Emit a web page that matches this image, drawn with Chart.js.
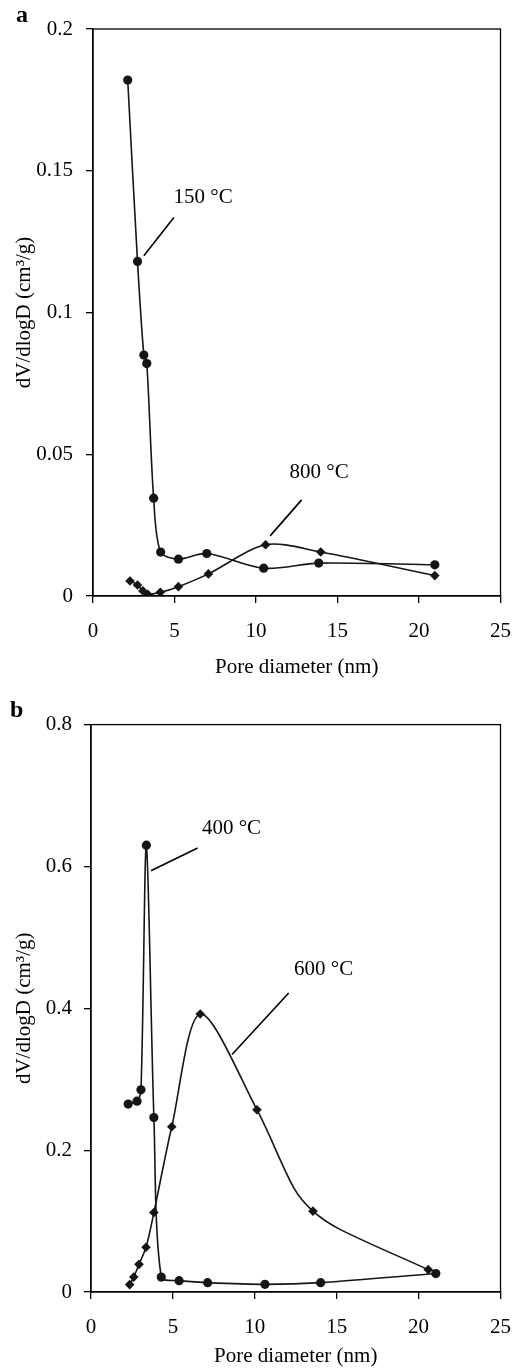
<!DOCTYPE html>
<html>
<head>
<meta charset="utf-8">
<script src="https://cdn.jsdelivr.net/npm/chart.js@4/dist/chart.umd.min.js"></script>
<style>
    html, body { margin: 0; padding: 0; background: #fff; }
    body { width: 527px; height: 1371px; position: relative; overflow: hidden; }
    canvas { position: absolute; left: 0; }
    #grafA { top: 0; }
    #grafB { top: 700px; }
</style>
</head>
<body>
<canvas id="grafA" width="527" height="700"></canvas>
<canvas id="grafB" width="527" height="671"></canvas>
<script>
// Podaci (a): 150 °C i 800 °C
const pora150 = [2.13, 2.73, 3.12, 3.30, 3.72, 4.15, 5.24, 6.98, 10.47, 13.85, 20.97];
const dv150 = [0.182, 0.118, 0.085, 0.082, 0.0345, 0.0155, 0.013, 0.015, 0.0098, 0.0116, 0.011];
const pora800 = [2.27, 2.73, 3.06, 3.36, 4.13, 5.24, 7.08, 10.59, 13.97, 20.97];
const dv800 = [0.0053, 0.0039, 0.0018, 0.0006, 0.0013, 0.0033, 0.0078, 0.0181, 0.0155, 0.0072];

// Podaci (b): 400 °C i 600 °C
const pora400 = [2.27, 2.81, 3.05, 3.38, 3.84, 4.29, 5.38, 7.12, 10.62, 14.02, 21.05];
const dv400 = [0.265, 0.269, 0.285, 0.630, 0.246, 0.021, 0.016, 0.0132, 0.0108, 0.0132, 0.026];
const pora600 = [2.36, 2.61, 2.93, 3.36, 3.84, 4.93, 6.67, 10.13, 12.40, 13.55, 15.17, 20.59];
const dv600 = [0.0104, 0.021, 0.039, 0.063, 0.112, 0.233, 0.392, 0.257, 0.146, 0.114, 0.0887, 0.0315];
// tačke bez markera (samo prelom linije)
const bezMarkera600 = [12.40, 15.17];

// Oznake osa
const xTicks = [0, 5, 10, 15, 20, 25];
const yTicksA = [0, 0.05, 0.1, 0.15, 0.2];
const yTicksB = [0, 0.2, 0.4, 0.6, 0.8];
const xNaslov = "Pore diameter (nm)";
const yNaslov = "dV/dlogD (cm³/g)";

Chart.defaults.font.family = '"Liberation Serif", "Times New Roman", serif';
Chart.defaults.font.size = 21;
Chart.defaults.color = "#000";

const CRNA = "#151515";

function skup(pore, vrijednosti, oblik, sakrij) {
    return {
        data: pore.map((p, i) => ({ x: p, y: vrijednosti[i] })),
        borderColor: CRNA,
        backgroundColor: CRNA,
        borderWidth: 1.6,
        tension: 0.3,
        pointStyle: oblik,
        pointRadius: pore.map(p => (sakrij && sakrij.includes(p)) ? 0 : (oblik === "circle" ? 4.6 : 4.8)),
        pointBorderWidth: 0,
        fill: false
    };
}

// Okvir, natpisi s linijama i slovo panela
function okvirPlugin(oznake, slovo, slovoX, slovoY) {
    return {
        id: "okvir",
        afterDraw(chart) {
            const { ctx, chartArea: a, scales: { x, y } } = chart;
            ctx.save();
            ctx.strokeStyle = "#000";
            ctx.lineWidth = 1.3;
            ctx.strokeRect(a.left, a.top, a.right - a.left, a.bottom - a.top);

            ctx.fillStyle = "#000";
            ctx.font = '21px "Liberation Serif"';
            ctx.textBaseline = "middle";
            ctx.lineWidth = 1.6;
            oznake.forEach(n => {
                ctx.beginPath();
                ctx.moveTo(x.getPixelForValue(n.od[0]), y.getPixelForValue(n.od[1]));
                ctx.lineTo(x.getPixelForValue(n.do[0]), y.getPixelForValue(n.do[1]));
                ctx.stroke();
                ctx.fillText(n.tekst, x.getPixelForValue(n.x), y.getPixelForValue(n.y));
            });

            ctx.font = 'bold 24px "Liberation Serif"';
            ctx.textBaseline = "alphabetic";
            ctx.fillText(slovo, slovoX, slovoY);
            ctx.restore();
        }
    };
}

function napraviGraf(id, skupovi, yTicks, r, oznake, slovo) {
    new Chart(document.getElementById(id), {
        type: "line",
        data: { datasets: skupovi },
        options: {
            responsive: false,
            animation: false,
            devicePixelRatio: 1,
            layout: { padding: { left: 0, right: r.desno, top: r.gore, bottom: 0 } },
            plugins: { legend: { display: false }, tooltip: { enabled: false } },
            scales: {
                x: {
                    type: "linear",
                    min: 0,
                    max: 25,
                    afterBuildTicks: s => { s.ticks = xTicks.map(v => ({ value: v })); },
                    afterFit: s => { s.height = r.visinaX; },
                    grid: { drawOnChartArea: false, color: "#000", lineWidth: 1.3, tickLength: 7 },
                    border: { color: "#000", width: 1.3 },
                    ticks: { padding: r.tickX, maxRotation: 0 },
                    title: { display: true, text: xNaslov, padding: { top: 0, bottom: r.naslovX } }
                },
                y: {
                    min: 0,
                    max: yTicks[yTicks.length - 1],
                    afterBuildTicks: s => { s.ticks = yTicks.map(v => ({ value: v })); },
                    afterFit: s => { s.width = r.sirinaY; },
                    grid: { drawOnChartArea: false, color: "#000", lineWidth: 1.3, tickLength: 7 },
                    border: { color: "#000", width: 1.3 },
                    ticks: { padding: r.tickY, callback: v => String(v) },
                    title: { display: true, text: yNaslov, padding: { top: 12, bottom: 0 } }
                }
            }
        },
        plugins: [okvirPlugin(oznake, slovo.tekst, slovo.x, slovo.y)]
    });
}

// Graf (a)
napraviGraf("grafA",
    [skup(pora150, dv150, "circle"), skup(pora800, dv800, "rectRot")],
    yTicksA,
    { desno: 12, gore: 29, visinaX: 104, sirinaY: 93, tickX: 16, tickY: 13, naslovX: 20 },
    [
        { tekst: "150 °C", x: 4.94, y: 0.1405, od: [4.96, 0.1335], do: [3.12, 0.120] },
        { tekst: "800 °C", x: 12.06, y: 0.0435, od: [12.80, 0.0339], do: [10.87, 0.0212] }
    ],
    { tekst: "a", x: 16, y: 22 }
);

// Graf (b)
napraviGraf("grafB",
    [skup(pora400, dv400, "circle"), skup(pora600, dv600, "rectRot", bezMarkera600)],
    yTicksB,
    { desno: 15, gore: 24, visinaX: 79, sirinaY: 91, tickX: 16, tickY: 12, naslovX: 2 },
    [
        { tekst: "400 °C", x: 6.77, y: 0.654, od: [6.51, 0.626], do: [3.66, 0.594] },
        { tekst: "600 °C", x: 12.40, y: 0.4545, od: [12.07, 0.4215], do: [8.61, 0.3348] }
    ],
    { tekst: "b", x: 10, y: 17 }
);
</script>
</body>
</html>
